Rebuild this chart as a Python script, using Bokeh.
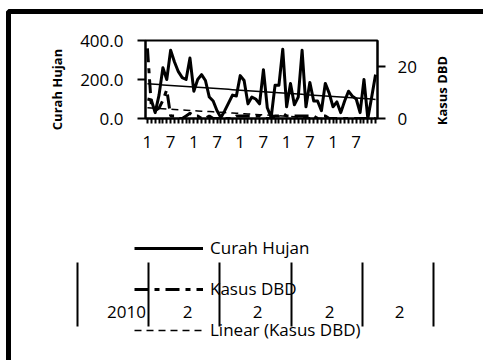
import math
import numpy as np
from bokeh.plotting import figure
from bokeh.models import (Range1d, LinearAxis, FixedTicker, NumeralTickFormatter,
                          Legend, LegendItem, BoxAnnotation, GridBox, Column)
from bokeh.core.properties import value
from bokeh.embed import file_html
from bokeh.resources import INLINE

# ---------------- data ----------------
month_num = list(range(1, 13)) * 5
year_labels = ["2010", "2", "2", "2", "2"]
curah_hujan = [100, 95, 30, 120, 260, 200, 350, 290, 240, 210,
               200, 310, 140, 200, 225, 195, 110, 90, 40, 5,
               40, 80, 120, 115, 220, 195, 75, 110, 100, 75,
               250, 55, 5, 170, 170, 355, 60, 180, 70, 110,
               350, 60, 185, 90, 90, 40, 180, 130, 60, 85,
               30, 90, 140, 115, 100, 30, 200, 0, 110, 225]
kasus_dbd = [27, 5, 3, 4, 7, 11, 1, 1, 0, 0,
             1, 2, 1, 1, 0, 0, 1, 0, 0, 0,
             0, 0, 0, 1, 1, 1, 1, 1, 1, 1,
             0, 0, 0, 1, 1, 2, 1, 1, 1, 1,
             1, 1, 1, 1, 0, 1, 1, 0, 0, 0,
             0, 0, 0, 0, 0, 0, 0, 0, 0, 0]

idx = np.arange(1, len(curah_hujan) + 1)
rain_fit = np.polyval(np.polyfit(idx, curah_hujan, 1), idx)
dbd_fit = np.polyval(np.polyfit(idx, kasus_dbd, 1), idx)

# ---------------- layout constants ----------------
W, H = 483, 360
FL, FR, FT, FB = 145, 377, 40, 118
FONT = "Open Sans"
RAIN_STYLE = dict(line_color="black", line_width=3, line_join="round")
DBD_STYLE = dict(line_color="black", line_width=3, line_dash="14 6 5 6")
DBD_TREND_STYLE = dict(line_color="black", line_width=1.5, line_dash="7 5")

# ---------------- main chart ----------------
p = figure(width=W, height=H, x_range=Range1d(0.5, len(idx) + 0.5), y_range=Range1d(0, 400),
           output_backend="svg", toolbar_location=None,
           min_border_left=FL, min_border_right=W - FR, min_border_top=FT, min_border_bottom=H - FB)
p.xgrid.visible = False
p.ygrid.visible = False
p.outline_line_color = "black"
p.outline_line_width = 2
p.background_fill_color = "white"
p.border_fill_color = "white"

xa = p.xaxis[0]
xa.ticker = FixedTicker(ticks=[int(i) for i in idx], minor_ticks=[])
xa.major_label_overrides = {int(i): (str(m) if m in (1, 7) else "") for i, m in zip(idx, month_num)}
xa.major_tick_in = 0
xa.major_tick_out = 5
xa.major_tick_line_width = 2
xa.axis_line_width = 2
xa.major_label_standoff = 12
xa.major_label_text_font = FONT
xa.major_label_text_font_size = "17px"
xa.major_label_text_color = "black"

ya = p.yaxis[0]
ya.ticker = FixedTicker(ticks=[0, 200, 400], minor_ticks=[])
ya.formatter = NumeralTickFormatter(format="0.0")
ya.major_tick_in = 0
ya.major_tick_out = 8
ya.major_tick_line_width = 2
ya.axis_line_width = 2
ya.major_label_standoff = 14
ya.major_label_text_font = FONT
ya.major_label_text_font_size = "17px"
ya.major_label_text_color = "black"

p.extra_y_ranges = {"dbd": Range1d(0, 30)}
ra = LinearAxis(y_range_name="dbd", ticker=FixedTicker(ticks=[0, 20], minor_ticks=[]))
ra.major_tick_in = 0
ra.major_tick_out = 8
ra.major_tick_line_width = 2
ra.axis_line_width = 2
ra.major_label_standoff = 12
ra.major_label_text_font = FONT
ra.major_label_text_font_size = "17px"
ra.major_label_text_color = "black"
p.add_layout(ra, "right")

p.line(idx, curah_hujan, **RAIN_STYLE)
p.line(idx, rain_fit, line_color="black", line_width=1.5)
p.line(idx, kasus_dbd, y_range_name="dbd", **DBD_STYLE)
p.line(idx, dbd_fit, y_range_name="dbd", **DBD_TREND_STYLE)

# ---------------- overlay canvas: border, legend, year row, axis titles ----------------
bg = figure(width=W, height=H, x_range=Range1d(0, W), y_range=Range1d(H, 0),
            x_axis_type=None, y_axis_type=None, min_border=0,
            output_backend="svg", toolbar_location=None)
bg.grid.visible = False
bg.outline_line_color = None
bg.background_fill_alpha = 0
bg.border_fill_alpha = 0

bg.add_layout(BoxAnnotation(left=8, right=W + 100, top=11, bottom=H + 100,
                            fill_alpha=0, line_color="black", line_width=5, line_alpha=1))

# axis titles, both reading bottom-to-top as in the reference
axis_titles = ["Curah Hujan", "Kasus DBD"]
bg.text(x=[56, 441], y=[89, 90], text=axis_titles, angle=math.pi / 2, text_align="center",
        text_baseline="middle", text_font=value(FONT), text_font_style="bold",
        text_font_size="13px", text_color="black")

# legend proxies (kept off-canvas; only their styles are used for the legend swatches)
off = dict(x=[-60, -50], y=[-60, -60])
lg_rain = bg.line(**off, **RAIN_STYLE)
lg_dbd = bg.line(**off, **DBD_STYLE)
lg_trend = bg.line(**off, **DBD_TREND_STYLE)
legend = Legend(items=[LegendItem(label="Curah Hujan", renderers=[lg_rain]),
                       LegendItem(label="Kasus DBD", renderers=[lg_dbd]),
                       LegendItem(label="Linear (Kasus DBD)", renderers=[lg_trend])],
                location=(134, 19), glyph_width=69, glyph_height=20, label_height=20,
                label_standoff=7, spacing=18, padding=0, margin=0,
                border_line_color=None, background_fill_alpha=0,
                label_text_font=FONT, label_text_font_size="17px", label_text_color="black")
bg.add_layout(legend)

year_x = [126, 187, 257, 329, 399]
bg.text(x=year_x, y=[311] * len(year_x), text=year_labels, text_align="center",
        text_baseline="middle", text_font=value(FONT), text_font_size="17px", text_color="black")
sep_x = [77, 148, 219, 291, 362, 433]
bg.segment(x0=sep_x, y0=[262] * len(sep_x), x1=sep_x, y1=[326] * len(sep_x),
           line_color="black", line_width=2)

layout = GridBox(children=[(p, 0, 0), (Column(children=[bg]), 0, 0)])
open("out.html", "w").write(file_html(layout, INLINE))
